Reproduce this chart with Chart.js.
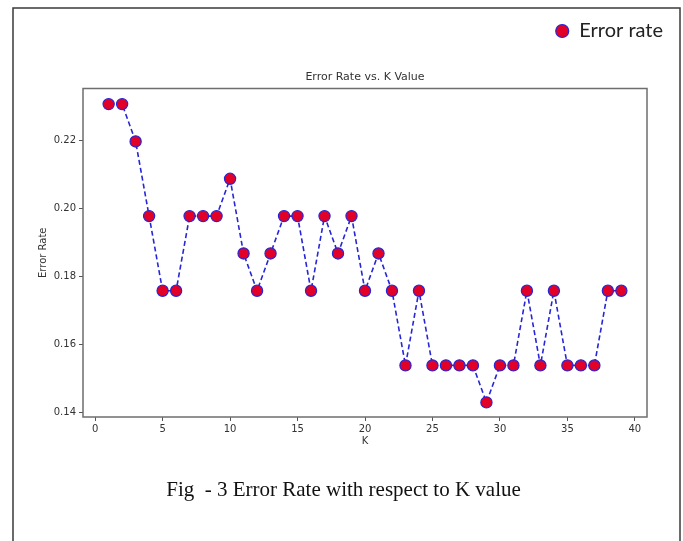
<!DOCTYPE html>
<html>
<head>
<meta charset="utf-8">
<script src="https://cdn.jsdelivr.net/npm/chart.js@4"></script>
<style>
  html, body { margin: 0; padding: 0; background: #fff; }
</style>
</head>
<body>
<canvas id="c" width="683" height="541"></canvas>
<script>
// --- data ---
const kValues = [1, 2, 3, 4, 5, 6, 7, 8, 9, 10, 11, 12, 13, 14, 15, 16, 17, 18, 19, 20,
  21, 22, 23, 24, 25, 26, 27, 28, 29, 30, 31, 32, 33, 34, 35, 36, 37, 38, 39];
const errorRate = [
  0.2308, 0.2308, 0.2198, 0.1978, 0.1758, 0.1758, 0.1978, 0.1978, 0.1978, 0.2088,
  0.1868, 0.1758, 0.1868, 0.1978, 0.1978, 0.1758, 0.1978, 0.1868, 0.1978, 0.1758,
  0.1868, 0.1758, 0.1538, 0.1758, 0.1538, 0.1538, 0.1538, 0.1538, 0.1429, 0.1538,
  0.1538, 0.1758, 0.1538, 0.1758, 0.1538, 0.1538, 0.1538, 0.1758, 0.1758
];
const xTicks = [0, 5, 10, 15, 20, 25, 30, 35, 40];
const yTicks = [0.14, 0.16, 0.18, 0.20, 0.22];

const lineBlue = "rgb(38, 38, 215)";
const dotRed = "rgb(226, 0, 38)";

// outer border + white background, and the box round the plot
const framePlugin = {
  id: "frame",
  beforeDraw(chart) {
    const ctx = chart.ctx;
    ctx.save();
    ctx.fillStyle = "#fff";
    ctx.fillRect(0, 0, chart.width, chart.height);
    ctx.strokeStyle = "#3a3a3a";
    ctx.lineWidth = 1.5;
    ctx.strokeRect(13, 8, 667, 600);
    ctx.restore();
  },
  beforeDatasetsDraw(chart) {
    const a = chart.chartArea;
    const ctx = chart.ctx;
    ctx.save();
    ctx.strokeStyle = "#6e6e6e";
    ctx.lineWidth = 1.5;
    ctx.strokeRect(a.left, a.top, a.right - a.left, a.bottom - a.top);
    ctx.restore();
  }
};

new Chart(document.getElementById("c").getContext("2d"), {
  type: "line",
  data: {
    datasets: [
      {
        label: "Error rate",
        data: kValues.map((k, i) => ({ x: k, y: errorRate[i] })),
        borderColor: lineBlue,
        borderWidth: 1.6,
        borderDash: [5, 3],
        fill: false,
        tension: 0,
        pointRadius: 5.6,
        pointHoverRadius: 5.6,
        pointBackgroundColor: dotRed,
        pointBorderColor: lineBlue,
        pointBorderWidth: 1.2
      }
    ]
  },
  plugins: [framePlugin],
  options: {
    responsive: false,
    devicePixelRatio: 1,
    animation: false,
    layout: { padding: { top: 11, left: 14, right: 10, bottom: 0 } },
    plugins: {
      legend: {
        position: "top",
        align: "end",
        weight: 3000,
        labels: {
          usePointStyle: true,
          boxWidth: 14,
          boxHeight: 9.2,
          padding: 10,
          color: "#222",
          font: { family: "Lato", size: 20 }
        }
      },
      title: {
        display: true,
        text: "Error Rate vs. K Value",
        fullSize: false,
        color: "#333",
        font: { family: "DejaVu Sans", size: 11, weight: "normal" },
        padding: { top: 19.4, bottom: 4.9 }
      },
      subtitle: {
        display: true,
        position: "bottom",
        text: "Fig  - 3 Error Rate with respect to K value",
        color: "#111",
        font: { family: "Liberation Serif", size: 21, weight: "normal" },
        padding: { top: 20.4, bottom: 38.4 }
      },
      tooltip: { enabled: false }
    },
    scales: {
      x: {
        type: "linear",
        min: -0.9,
        max: 40.9,
        afterBuildTicks: (axis) => { axis.ticks = xTicks.map(v => ({ value: v })); },
        afterFit: (axis) => { axis.height = 40; axis.paddingRight = 36; },
        border: { display: false },
        grid: { drawOnChartArea: false, tickLength: 4, tickColor: "#555", tickWidth: 1 },
        ticks: {
          padding: 2,
          maxRotation: 0,
          color: "#333",
          font: { family: "DejaVu Sans", size: 10 }
        },
        title: {
          display: true,
          text: "K",
          color: "#333",
          font: { family: "DejaVu Sans", size: 10 },
          padding: { top: 1, bottom: 10 }
        }
      },
      y: {
        type: "linear",
        min: 0.1386,
        max: 0.2354,
        afterBuildTicks: (axis) => { axis.ticks = yTicks.map(v => ({ value: v })); },
        afterFit: (axis) => { axis.width = 69; },
        border: { display: false },
        grid: { drawOnChartArea: false, tickLength: 4, tickColor: "#555", tickWidth: 1 },
        ticks: {
          padding: 3,
          color: "#333",
          font: { family: "DejaVu Sans", size: 10 },
          callback: (v) => Number(v).toFixed(2)
        },
        title: {
          display: true,
          text: "Error Rate",
          color: "#333",
          font: { family: "DejaVu Sans", size: 10 },
          padding: { top: 23, bottom: 0 }
        }
      }
    }
  }
});
</script>
</body>
</html>
